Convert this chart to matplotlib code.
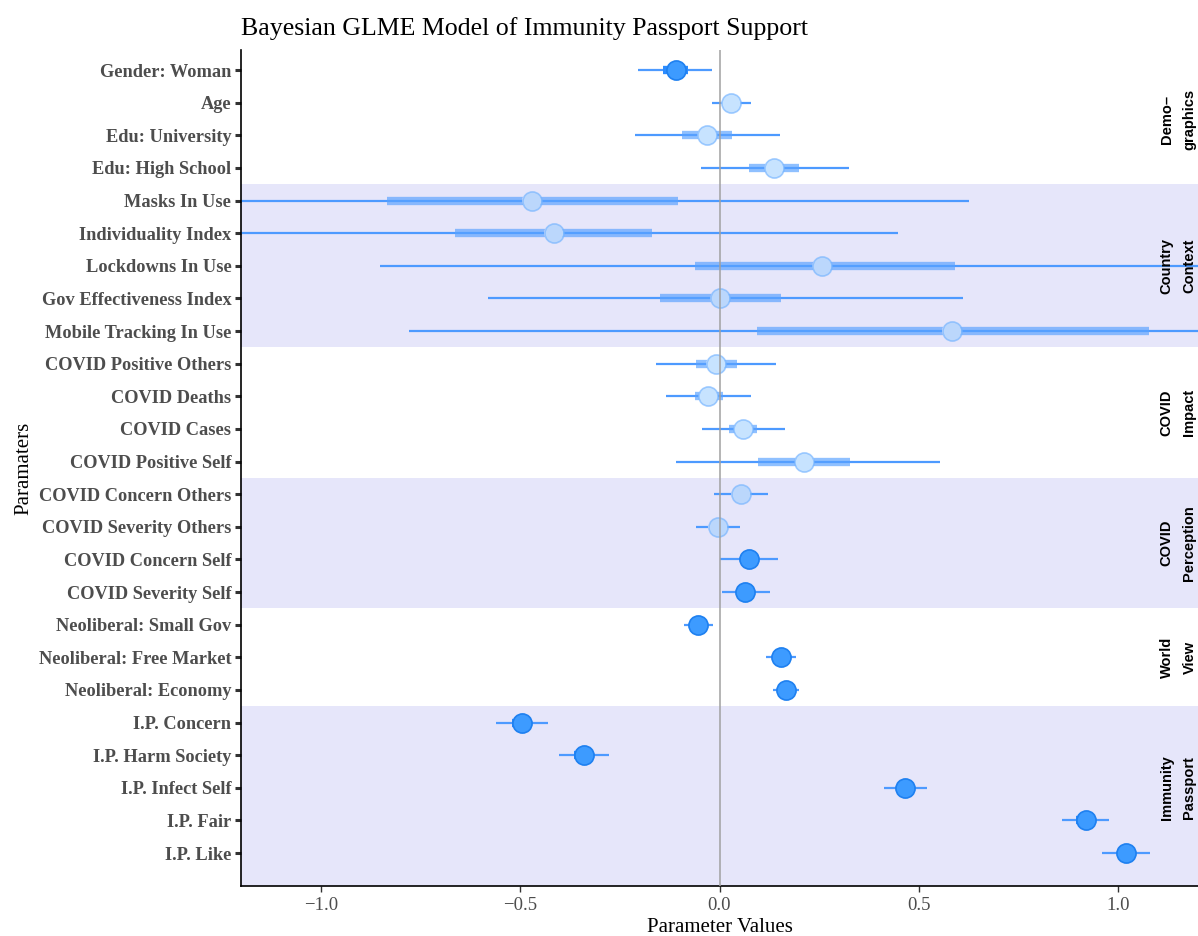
import numpy as np
import matplotlib
matplotlib.use("Agg")
import matplotlib.pyplot as plt

params = ["Gender: Woman", "Age", "Edu: University", "Edu: High School",
          "Masks In Use", "Individuality Index", "Lockdowns In Use",
          "Gov Effectiveness Index", "Mobile Tracking In Use",
          "COVID Positive Others", "COVID Deaths", "COVID Cases", "COVID Positive Self",
          "COVID Concern Others", "COVID Severity Others", "COVID Concern Self",
          "COVID Severity Self",
          "Neoliberal: Small Gov", "Neoliberal: Free Market", "Neoliberal: Economy",
          "I.P. Concern", "I.P. Harm Society", "I.P. Infect Self", "I.P. Fair", "I.P. Like"]

est = [-0.110, 0.029, -0.031, 0.137,
       -0.471, -0.416, 0.257, 0.001, 0.582,
       -0.009, -0.028, 0.060, 0.213,
       0.053, -0.005, 0.074, 0.065,
       -0.054, 0.155, 0.166,
       -0.496, -0.340, 0.466, 0.918, 1.020]

# inner (thick) interval
inner_lo = [-0.141, 0.015, -0.094, 0.074,
            -0.835, -0.663, -0.062, -0.148, 0.095,
            -0.060, -0.062, 0.024, 0.097,
            0.035, -0.023, 0.051, 0.047,
            -0.067, 0.140, 0.152,
            -0.520, -0.364, 0.446, 0.895, 0.997]
inner_hi = [-0.079, 0.043, 0.032, 0.200,
            -0.104, -0.170, 0.591, 0.153, 1.077,
            0.044, 0.008, 0.095, 0.328,
            0.071, 0.013, 0.099, 0.083,
            -0.041, 0.170, 0.180,
            -0.472, -0.316, 0.487, 0.941, 1.043]

# outer (thin) interval
outer_lo = [-0.204, -0.018, -0.212, -0.046,
            -1.570, -1.280, -0.851, -0.580, -0.779,
            -0.158, -0.134, -0.044, -0.109,
            -0.013, -0.060, 0.001, 0.006,
            -0.088, 0.116, 0.133,
            -0.560, -0.402, 0.413, 0.858, 0.960]
outer_hi = [-0.018, 0.080, 0.152, 0.325,
            0.626, 0.447, 1.365, 0.610, 1.940,
            0.142, 0.078, 0.165, 0.554,
            0.121, 0.051, 0.147, 0.126,
            -0.017, 0.193, 0.200,
            -0.429, -0.278, 0.520, 0.978, 1.080]

groups = ["Demo\u2013\ngraphics", "Country\nContext", "COVID\nImpact",
          "COVID\nPerception", "World\nView", "Immunity\nPassport"]
group_sizes = [4, 5, 4, 4, 3, 5]
group_shaded = [False, True, False, True, False, True]

band_col = '#E6E6FA'

y = np.arange(len(params))
est = np.array(est)
olo, ohi = np.array(outer_lo), np.array(outer_hi)
ilo, ihi = np.array(inner_lo), np.array(inner_hi)
sig = (olo > 0) | (ohi < 0)
row_bg = np.repeat([band_col if s else 'white' for s in group_shaded], group_sizes)

plt.rcParams['font.family'] = ['Liberation Serif', 'DejaVu Serif']

fig = plt.figure(figsize=(11.98, 9.36), dpi=100)
ax = fig.add_axes([241/1198, 1 - 886/936, 957/1198, 836/936])

ymin, ymax = -0.613, len(params) - 1 + 1.01
ax.set_xlim(-1.2, 1.2)
ax.set_ylim(ymax, ymin)

# background bands + group labels
start = 0
for name, n, shade in zip(groups, group_sizes, group_shaded):
    lo, hi = start - 0.5, start + n - 0.5
    if shade:
        top = hi if start + n < len(params) else ymax
        ax.axhspan(lo, top, color=band_col, lw=0, zorder=0)
    ax.text(1.15, (start + start + n - 1) / 2, name, rotation=90, ha='center', va='center',
            fontsize=10.5, fontweight='bold', family=['Liberation Sans', 'DejaVu Sans'],
            linespacing=1.8, zorder=7)
    start += n

ax.hlines(y, olo, ohi, color='#4D9AFF', lw=1.6, zorder=2)
ax.hlines(y[~sig], ilo[~sig], ihi[~sig], color='#5AA2FF', alpha=0.68, lw=6, zorder=3)
ax.hlines(y[sig], ilo[sig], ihi[sig], color='#2B8CFF', lw=6, zorder=3)

# non-significant points: semi-transparent over the row background
ax.scatter(est[~sig], y[~sig], s=190, facecolor=row_bg[~sig], edgecolor='none', zorder=4)
ax.scatter(est[~sig], y[~sig], s=190, facecolor=(0.6, 0.8, 1.0, 0.55),
           edgecolor=(0.45, 0.7, 1.0, 0.65), linewidth=1.2, zorder=4.5)
ax.scatter(est[sig], y[sig], s=190, facecolor='#3D9BFF', edgecolor='#1E80F0',
           linewidth=1.2, zorder=4.5)
ax.axvline(0, color='#A0A0A0', lw=1.1, zorder=6)

ax.set_yticks(y)
ax.set_yticklabels(params, fontsize=13.2, fontweight='bold', color='#4D4D4D')
ax.set_xticks([-1.0, -0.5, 0.0, 0.5, 1.0])
ax.set_xticklabels(['\u22121.0', '\u22120.5', '0.0', '0.5', '1.0'], fontsize=13.5, color='#4D4D4D')
ax.tick_params(axis='y', length=4, width=2.2, color='#333333', pad=3)
ax.tick_params(axis='x', length=4, width=1, color='#333333', pad=4)

for s in ['top', 'right']:
    ax.spines[s].set_visible(False)
for s in ['left', 'bottom']:
    ax.spines[s].set_linewidth(1.2)
    ax.spines[s].set_color('black')

ax.set_xlabel("Parameter Values", fontsize=15, labelpad=3)
ax.set_ylabel("Paramaters", fontsize=15, labelpad=4)
ax.set_title("Bayesian GLME Model of Immunity Passport Support", loc='left',
             fontsize=18.6, pad=11)

fig.savefig("out.png", dpi=100)
